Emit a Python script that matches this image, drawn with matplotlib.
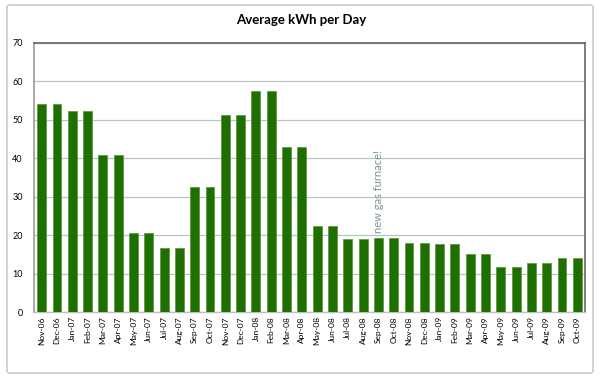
import matplotlib
matplotlib.use("Agg")
import matplotlib.pyplot as plt
from matplotlib.patches import FancyBboxPatch

months = ["Nov-06", "Dec-06", "Jan-07", "Feb-07", "Mar-07", "Apr-07", "May-07", "Jun-07",
          "Jul-07", "Aug-07", "Sep-07", "Oct-07", "Nov-07", "Dec-07", "Jan-08", "Feb-08",
          "Mar-08", "Apr-08", "May-08", "Jun-08", "Jul-08", "Aug-08", "Sep-08", "Oct-08",
          "Nov-08", "Dec-08", "Jan-09", "Feb-09", "Mar-09", "Apr-09", "May-09", "Jun-09",
          "Jul-09", "Aug-09", "Sep-09", "Oct-09"]
kwh = [54.0, 54.0, 52.3, 52.3, 40.9, 40.9, 20.6, 20.6,
       16.6, 16.6, 32.4, 32.4, 51.3, 51.3, 57.5, 57.5,
       42.9, 42.9, 22.4, 22.4, 18.9, 18.9, 19.3, 19.3,
       18.0, 18.0, 17.7, 17.7, 15.1, 15.1, 11.7, 11.7,
       12.8, 12.8, 14.1, 14.1]
yticks = [0, 10, 20, 30, 40, 50, 60, 70]
title = "Average kWh per Day"
note = "new gas furnace!"

plt.rcParams['font.family'] = ['Lato', 'DejaVu Sans']

fig = plt.figure(figsize=(6, 3.83), dpi=100)
fig.patch.set_facecolor("white")
border = FancyBboxPatch((7/600, 10/383), 586/600, 368/383,
                        boxstyle="round,pad=0,rounding_size=0.006",
                        transform=fig.transFigure, fill=False,
                        edgecolor="#c5cccc", linewidth=1.2)
fig.patches.append(border)

ax = fig.add_axes([34/600, 71/383, 551/600, 269/383])
x = list(range(len(months)))
ax.bar(x, kwh, width=0.58, color="#1f6e00", edgecolor="#5f9a45", linewidth=0.6, zorder=3)
ax.set_xlim(-0.5, len(months) - 0.5)
ax.set_ylim(0, 70)
ax.set_yticks(yticks)
ax.set_yticklabels([str(v) for v in yticks], fontsize=6.5)
ax.set_xticks(x)
ax.set_xticklabels(months, rotation=90, fontsize=6)
ax.tick_params(axis='both', length=0, pad=3)
ax.tick_params(axis='y', pad=8)
ax.grid(axis='y', color="#b9c2c2", linewidth=0.9, zorder=0)
for s in ["top", "right"]:
    ax.spines[s].set_color("#666666")
    ax.spines[s].set_linewidth(1.2)
ax.spines["left"].set_color("#999999")
ax.spines["left"].set_linewidth(1.2)
ax.spines["bottom"].set_color("#b9c2c2")
ax.spines["bottom"].set_linewidth(1.0)

ax.text(22, 20.6, note, rotation=90, ha="center", va="bottom",
        fontsize=8, color="#7e9396")

fig.text(0.502, 0.948, title, ha="center", va="center", fontsize=9.5, fontweight="bold")

fig.savefig("out.png", dpi=100)
